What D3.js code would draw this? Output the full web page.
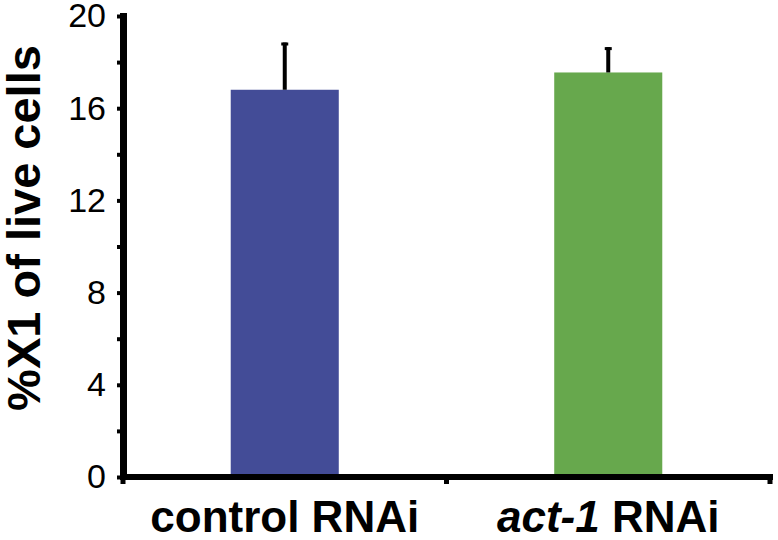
<!DOCTYPE html>
<html>
<head>
<meta charset="utf-8">
<script src="https://cdn.jsdelivr.net/npm/d3@7"></script>
<style>
  body { margin: 0; background: #fff; }
  text { font-family: "Liberation Sans", Arial, Helvetica, sans-serif; }
</style>
</head>
<body>
<div id="chart"></div>
<script>
// data
var groups = ["control", "act1"];
var means = [16.8, 17.55];
var errors = [2.05, 1.1];
var colors = ["#434c97", "#67a84d"];
var majorTicks = [0, 4, 8, 12, 16, 20];
var minorTicks = [2, 6, 10, 14, 18];

var width = 778, height = 540;
var plotLeft = 123, plotRight = 770, plotTop = 16, plotBottom = 477;

var svg = d3.select("#chart").append("svg")
    .attr("width", width)
    .attr("height", height);

var x = d3.scaleBand()
    .domain(groups)
    .range([plotLeft, plotRight])
    .paddingInner(0.666)
    .paddingOuter(0.333);

var y = d3.scaleLinear()
    .domain([0, 20])
    .range([plotBottom, plotTop]);

// bars
svg.selectAll(".bar")
    .data(groups)
  .enter().append("rect")
    .attr("class", "bar")
    .attr("x", function(d) { return x(d); })
    .attr("width", x.bandwidth())
    .attr("y", function(d, i) { return y(means[i]); })
    .attr("height", function(d, i) { return y(0) - y(means[i]); })
    .attr("fill", function(d, i) { return colors[i]; });

// error bars (upper only)
svg.selectAll(".err")
    .data(groups)
  .enter().append("line")
    .attr("class", "err")
    .attr("x1", function(d) { return x(d) + x.bandwidth() / 2; })
    .attr("x2", function(d) { return x(d) + x.bandwidth() / 2; })
    .attr("y1", function(d, i) { return y(means[i]); })
    .attr("y2", function(d, i) { return y(means[i] + errors[i]); })
    .attr("stroke", "#000")
    .attr("stroke-width", 4);

svg.selectAll(".cap")
    .data(groups)
  .enter().append("line")
    .attr("class", "cap")
    .attr("x1", function(d) { return x(d) + x.bandwidth() / 2 - 3.5; })
    .attr("x2", function(d) { return x(d) + x.bandwidth() / 2 + 3.5; })
    .attr("y1", function(d, i) { return y(means[i] + errors[i]) + 1.5; })
    .attr("y2", function(d, i) { return y(means[i] + errors[i]) + 1.5; })
    .attr("stroke", "#000")
    .attr("stroke-width", 3);

// y axis
var yAxis = svg.append("g")
    .attr("transform", "translate(" + plotLeft + ",0)")
    .call(d3.axisLeft(y).tickValues(majorTicks).tickSize(6).tickPadding(11).tickSizeOuter(0));

var yMinor = svg.append("g")
    .attr("transform", "translate(" + plotLeft + ",0)")
    .call(d3.axisLeft(y).tickValues(minorTicks).tickSize(6).tickFormat("").tickSizeOuter(0));
yMinor.select(".domain").remove();
yAxis.select(".domain").remove();

svg.selectAll(".tick line").style("stroke-width", "4px").attr("stroke", "#000");
yAxis.selectAll("text")
    .attr("font-size", "34px")
    .attr("fill", "#000")
    .style("font-family", "'Liberation Sans', Arial, sans-serif");

// y axis line
svg.append("rect")
    .attr("x", plotLeft - 3)
    .attr("y", plotTop - 3)
    .attr("width", 7)
    .attr("height", plotBottom - plotTop + 6)
    .attr("fill", "#000");

// x axis line with ticks at the group boundaries
var bounds = [x.range()[0], (x.range()[0] + x.range()[1]) / 2, x.range()[1]];
svg.append("rect")
    .attr("x", plotLeft - 3)
    .attr("y", plotBottom - 3)
    .attr("width", plotRight - plotLeft + 6)
    .attr("height", 6)
    .attr("fill", "#000");
svg.selectAll(".xtick")
    .data(bounds)
  .enter().append("line")
    .attr("class", "xtick")
    .attr("x1", function(d) { return d; })
    .attr("x2", function(d) { return d; })
    .attr("y1", plotBottom)
    .attr("y2", plotBottom + 7)
    .attr("stroke", "#000")
    .attr("stroke-width", 5);

// x labels
svg.append("text")
    .attr("x", x("control") + x.bandwidth() / 2)
    .attr("y", 532)
    .attr("text-anchor", "middle")
    .attr("font-size", "44px")
    .attr("font-weight", "bold")
    .text("control RNAi");

var lab2 = svg.append("text")
    .attr("x", x("act1") + x.bandwidth() / 2)
    .attr("y", 532)
    .attr("text-anchor", "middle")
    .attr("font-size", "44px")
    .attr("font-weight", "bold");
lab2.append("tspan").attr("font-style", "italic").text("act-1");
lab2.append("tspan").text(" RNAi");

// y title
svg.append("text")
    .attr("transform", "translate(40,228) rotate(-90)")
    .attr("text-anchor", "middle")
    .attr("font-size", "47px")
    .attr("font-weight", "bold")
    .text("%X1 of live cells");
</script>
</body>
</html>
